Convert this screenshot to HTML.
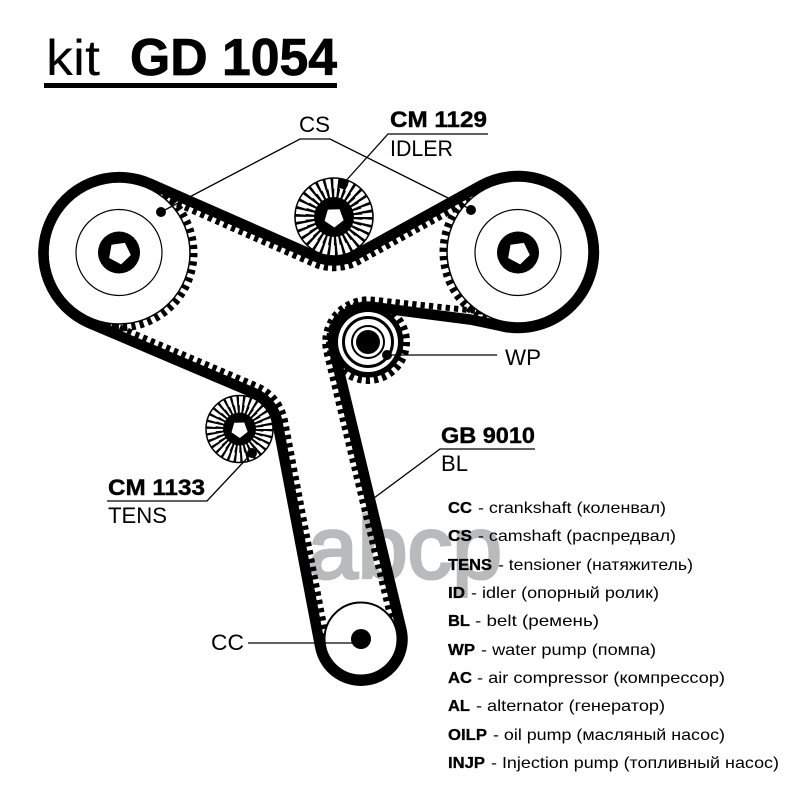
<!DOCTYPE html>
<html>
<head>
<meta charset="utf-8">
<style>
html,body{margin:0;padding:0;background:#fff}
svg{display:block}
text{font-family:"Liberation Sans",sans-serif;fill:#000}
.b{font-weight:bold;stroke:#000;stroke-width:.3}
.l{font-size:16px}
.m{font-size:22px}
.mb{font-size:22px;font-weight:bold;stroke:#000;stroke-width:.4}
</style>
</head>
<body>
<svg width="800" height="800" viewBox="0 0 800 800" xmlns="http://www.w3.org/2000/svg">
<rect width="800" height="800" fill="#fff"/>

<!-- title -->
<text x="46" y="75" font-size="50" textLength="54" lengthAdjust="spacingAndGlyphs">kit</text>
<text x="130" y="75" font-size="52" font-weight="bold" stroke="#000" stroke-width=".8" textLength="207" lengthAdjust="spacingAndGlyphs">GD 1054</text>
<rect x="44" y="83" width="293" height="5" fill="#000"/>

<!-- pulley ring teeth -->
<circle cx="119" cy="253" r="75" fill="none" stroke="#000" stroke-width="7" stroke-dasharray="4.2 4.216"/>
<circle cx="518" cy="252" r="75" fill="none" stroke="#000" stroke-width="7" stroke-dasharray="4.2 4.216"/>
<circle cx="368" cy="342" r="38" fill="none" stroke="#000" stroke-width="8" stroke-dasharray="4.2 4.03"/>
<circle cx="368" cy="342" r="32.5" fill="none" stroke="#000" stroke-width="6"/>

<!-- belt teeth -->
<path d="M146.5 190.500 L313.4 263.9 A51.25 51.25 0 0 0 358.7 261.9 L485 192.2 M500 313.5 L373.1 299.7 A42.75 42.75 0 0 0 326.4 352 L393.8 631.1 M327.8 645.3 L284.9 420.2 A46.75 46.75 0 0 0 257.3 386 L92.3 315.8" fill="none" stroke="#000" stroke-width="6" stroke-dasharray="4.3 4.1"/>

<!-- pulley disks -->
<circle cx="119" cy="253" r="71" fill="#fff" stroke="#000" stroke-width="1.5"/>
<circle cx="518" cy="252" r="71" fill="#fff" stroke="#000" stroke-width="1.5"/>
<circle cx="361" cy="639" r="36.5" fill="#fff" stroke="#000" stroke-width="2"/>

<!-- belt -->
<path d="M149.6 183.4 L316.5 256.8 A43.5 43.5 0 0 0 355 255.1 L481.3 185.4 A76 76 0 1 1 505 326.9 Q490 323.5 470 319.5 L373.1 307 A35 35 0 0 0 334 350.2 L401.3 629.3 A41.5 41.5 0 1 1 320.2 646.8 L277.3 421.7 A39 39 0 0 0 254.2 393.1 L89.3 323 A76 76 0 1 1 149.6 183.4Z" fill="none" stroke="#000" stroke-width="10.5" stroke-linejoin="round"/>

<!-- left camshaft -->
<circle cx="119" cy="252.5" r="43" fill="none" stroke="#000" stroke-width="1.2"/>
<circle cx="119" cy="252.5" r="21" fill="#000"/>
<polygon points="0,1 .951,.309 .588,-.809 -.588,-.809 -.951,.309" transform="translate(119.5 253) rotate(-8) scale(11.5)" fill="#fff"/>

<!-- right camshaft -->
<circle cx="518" cy="252.5" r="43" fill="none" stroke="#000" stroke-width="1.2"/>
<circle cx="518" cy="252.5" r="21" fill="#000"/>
<polygon points="0,1 .951,.309 .588,-.809 -.588,-.809 -.951,.309" transform="translate(518.5 253) rotate(-8) scale(11.5)" fill="#fff"/>

<!-- idler -->
<circle cx="334" cy="217" r="39" fill="#fff" stroke="#000" stroke-width="1.6"/>
<circle cx="334" cy="217" r="33.5" fill="none" stroke="#000" stroke-width="11" stroke-dasharray="2.5 4.52"/>
<circle cx="334" cy="217" r="24" fill="none" stroke="#000" stroke-width="9" stroke-dasharray="2.5 2.53"/>
<circle cx="334" cy="217" r="20" fill="#000"/>
<polygon points="0,1 .951,.309 .588,-.809 -.588,-.809 -.951,.309" transform="translate(334 217.5) rotate(-2) scale(10)" fill="#fff"/>

<!-- tensioner -->
<circle cx="239.5" cy="429" r="33.5" fill="#fff" stroke="#000" stroke-width="1.5"/>
<circle cx="239.5" cy="429" r="28.5" fill="none" stroke="#000" stroke-width="10" stroke-dasharray="2.2 3.77"/>
<circle cx="239.5" cy="429" r="20" fill="none" stroke="#000" stroke-width="8" stroke-dasharray="2.2 1.99"/>
<circle cx="239.5" cy="429" r="16.5" fill="#000"/>
<polygon points="0,1 .951,.309 .588,-.809 -.588,-.809 -.951,.309" transform="translate(239.5 429.5) rotate(-2) scale(8.5)" fill="#fff"/>

<!-- water pump -->
<circle cx="368" cy="342" r="30" fill="#fff"/>
<circle cx="368" cy="342" r="24.5" fill="none" stroke="#000" stroke-width="3"/>
<circle cx="368" cy="342" r="16" fill="none" stroke="#000" stroke-width="2"/>
<circle cx="368" cy="342" r="12" fill="#000"/>

<!-- crank hub -->
<circle cx="361" cy="639" r="10" fill="#000"/>

<!-- leaders -->
<g fill="none" stroke="#000" stroke-width="1.3">
<path d="M161 212 L300 139 H330 L472 210"/>
<path d="M343 184 L388 134 H488"/>
<path d="M252 453 L207 501 H107"/>
<path d="M374 498 L440 449 H535"/>
<path d="M387 355 H497"/>
<path d="M248 643 H361"/>
</g>
<g fill="#000">
<circle cx="161" cy="212" r="5"/>
<circle cx="471" cy="210" r="5"/>
<circle cx="343" cy="184" r="5"/>
<circle cx="252" cy="453" r="5"/>
<circle cx="387" cy="355" r="5"/>
</g>

<!-- labels -->
<text x="299" y="132" class="m" textLength="31" lengthAdjust="spacingAndGlyphs">CS</text>
<text x="390" y="127" class="mb" textLength="97" lengthAdjust="spacingAndGlyphs">CM  1129</text>
<text x="390" y="156" class="m" textLength="63" lengthAdjust="spacingAndGlyphs">IDLER</text>
<text x="505" y="365" class="m" textLength="36" lengthAdjust="spacingAndGlyphs">WP</text>
<text x="441" y="443" class="mb" textLength="94" lengthAdjust="spacingAndGlyphs">GB 9010</text>
<text x="441" y="471" class="m" textLength="27" lengthAdjust="spacingAndGlyphs">BL</text>
<text x="108" y="495" class="mb" textLength="97" lengthAdjust="spacingAndGlyphs">CM  1133</text>
<text x="108" y="523" class="m" textLength="59" lengthAdjust="spacingAndGlyphs">TENS</text>
<text x="211" y="650" class="m" textLength="33" lengthAdjust="spacingAndGlyphs">CC</text>

<!-- legend -->
<g class="l">
<text class="l b" x="448" y="513" textLength="24" lengthAdjust="spacingAndGlyphs">CC</text>
<text class="l" x="478" y="513" textLength="188" lengthAdjust="spacingAndGlyphs">- crankshaft (коленвал)</text>
<text class="l b" x="448" y="541" textLength="24" lengthAdjust="spacingAndGlyphs">CS</text>
<text class="l" x="478" y="541" textLength="198" lengthAdjust="spacingAndGlyphs">- camshaft (распредвал)</text>
<text class="l b" x="448" y="570" textLength="44" lengthAdjust="spacingAndGlyphs">TENS</text>
<text class="l" x="498" y="570" textLength="195" lengthAdjust="spacingAndGlyphs">- tensioner (натяжитель)</text>
<text class="l b" x="448" y="598" textLength="17" lengthAdjust="spacingAndGlyphs">ID</text>
<text class="l" x="471" y="598" textLength="188" lengthAdjust="spacingAndGlyphs">- idler (опорный ролик)</text>
<text class="l b" x="448" y="626" textLength="22" lengthAdjust="spacingAndGlyphs">BL</text>
<text class="l" x="475" y="626" textLength="124" lengthAdjust="spacingAndGlyphs">- belt (ремень)</text>
<text class="l b" x="448" y="655" textLength="27" lengthAdjust="spacingAndGlyphs">WP</text>
<text class="l" x="481" y="655" textLength="175" lengthAdjust="spacingAndGlyphs">- water pump (помпа)</text>
<text class="l b" x="448" y="683" textLength="24" lengthAdjust="spacingAndGlyphs">AC</text>
<text class="l" x="477" y="683" textLength="248" lengthAdjust="spacingAndGlyphs">- air compressor (компрессор)</text>
<text class="l b" x="448" y="711" textLength="22" lengthAdjust="spacingAndGlyphs">AL</text>
<text class="l" x="476" y="711" textLength="189" lengthAdjust="spacingAndGlyphs">- alternator (генератор)</text>
<text class="l b" x="448" y="740" textLength="39" lengthAdjust="spacingAndGlyphs">OILP</text>
<text class="l" x="493" y="740" textLength="232" lengthAdjust="spacingAndGlyphs">- oil pump (масляный насос)</text>
<text class="l b" x="448" y="768" textLength="37" lengthAdjust="spacingAndGlyphs">INJP</text>
<text class="l" x="491" y="768" textLength="288" lengthAdjust="spacingAndGlyphs">- Injection pump (топливный насос)</text>
</g>

<!-- watermark -->
<text x="308" y="578" font-size="88" textLength="194" lengthAdjust="spacingAndGlyphs" stroke="#b8babc" stroke-width="3" style="fill:#b8babc;mix-blend-mode:multiply">abcp</text>
</svg>
</body>
</html>
